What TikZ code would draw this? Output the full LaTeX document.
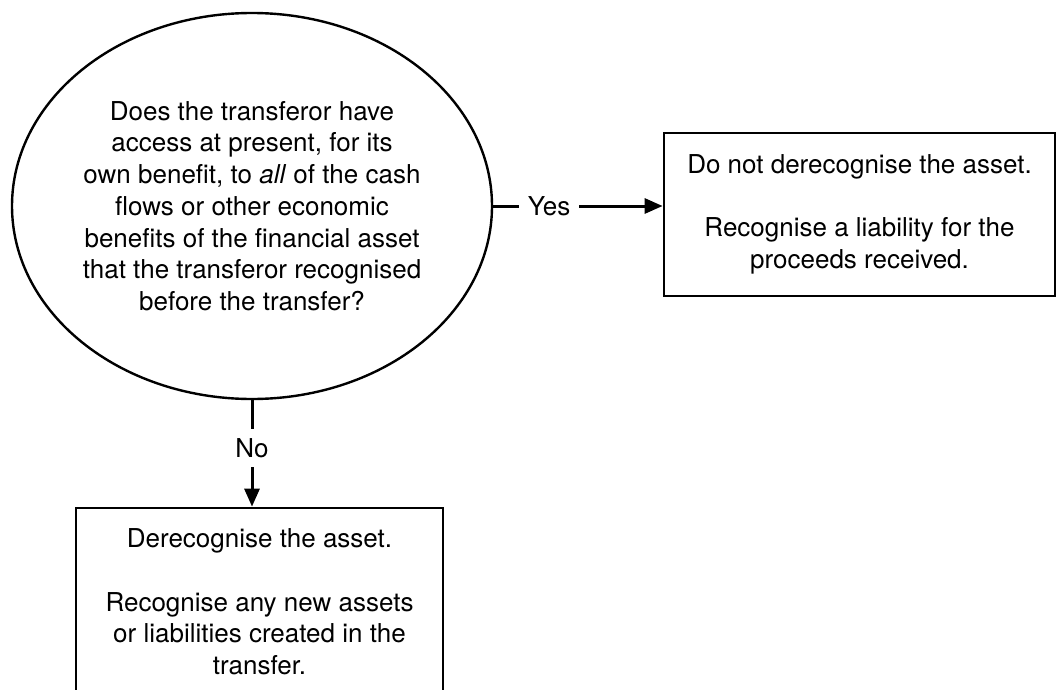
\documentclass[tikz,border=0pt]{standalone}
\usepackage{fontspec}
\setmainfont{TeX Gyre Heros}
\usepackage{tikz}
\usetikzlibrary{arrows.meta,shapes.geometric,positioning,calc}

\begin{document}
\begin{tikzpicture}[x=1pt,y=-1pt,
        every node/.style={font=\fontsize{26}{31.7}\selectfont,align=center},
        question/.style={ellipse,draw,line width=2.4pt,minimum width=480pt,minimum height=386pt,inner sep=0pt},
        outcome/.style={rectangle,draw,line width=2.8pt,inner sep=0pt},
        arr/.style={line width=3pt,-{Triangle[length=18pt,width=15pt]}},
        answer/.style={fill=white,inner xsep=9pt,inner ysep=9pt}]
        \useasboundingbox (0,0) rectangle (1057,690);
        \clip (0,0) rectangle (1057,690);

        \node[question] (q) at (252,206)
            {Does the transferor have\\ access at present, for its\\ own benefit, to \textit{all} of the cash\\ flows or other economic\\ benefits of the financial asset\\ that the transferor recognised\\ before the transfer?};

        \node[outcome,minimum width=391pt,minimum height=163pt] (yes) at (859.5,214.5)
            {Do not derecognise the asset.\\[31.7pt] Recognise a liability for the\\ proceeds received.};

        \node[outcome,minimum width=367pt,minimum height=188pt] (no) at (259.5,602)
            {Derecognise the asset.\\[31.7pt] Recognise any new assets\\ or liabilities created in the\\ transfer.};

        \draw[arr] (q.east) -- node[answer,pos=0.33] {Yes} (q.east -| yes.west);
        \draw[arr] (q.south) -- node[answer,pos=0.45] {No} (q.south |- no.north);
    \end{tikzpicture}
\end{document}
